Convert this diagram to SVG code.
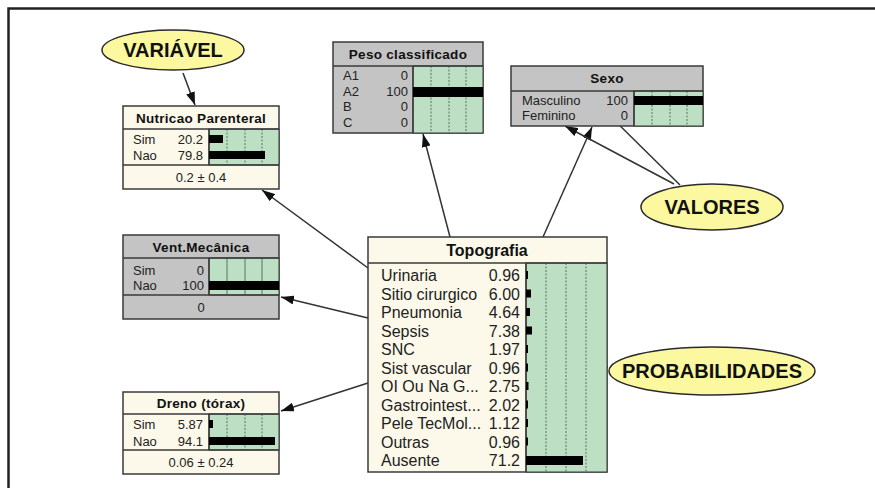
<svg xmlns="http://www.w3.org/2000/svg" width="875" height="488" viewBox="0 0 875 488">
<style>
  .box{stroke:#3a3a3a;stroke-width:1.5}
  .cream{fill:#fcf9ea}
  .gray{fill:#c4c4c4}
  .green{fill:#bde0c5;stroke:#3a3a3a;stroke-width:1}
  .sep{stroke:#3a3a3a;stroke-width:1.5;fill:none}
  .grid{stroke:#3a5a3a;stroke-width:0.8;stroke-dasharray:2,1.5}
  .gridS{stroke:#3a5a3a;stroke-width:0.8}
  .bar{fill:#000}
  .t{font-family:"Liberation Sans",Arial,sans-serif;font-weight:bold;font-size:13.5px;letter-spacing:0.3px;fill:#111;text-anchor:middle}
  .tb{font-family:"Liberation Sans",Arial,sans-serif;font-weight:bold;font-size:16px;fill:#111;text-anchor:middle}
  .s{font-family:"Liberation Sans",Arial,sans-serif;font-size:13px;fill:#222}
  .sv{font-family:"Liberation Sans",Arial,sans-serif;font-size:13px;fill:#222;text-anchor:end}
  .sc{font-family:"Liberation Sans",Arial,sans-serif;font-size:13px;fill:#222;text-anchor:middle}
  .L{font-family:"Liberation Sans",Arial,sans-serif;font-size:16px;fill:#222}
  .Lv{font-family:"Liberation Sans",Arial,sans-serif;font-size:16px;fill:#222;text-anchor:end}
  .ell{fill:#fbf8a0;stroke:#2a2a2a;stroke-width:1.5}
  .et{font-family:"Liberation Sans",Arial,sans-serif;font-weight:bold;font-size:20px;fill:#111;text-anchor:middle}
  .con{stroke:#333;stroke-width:1.5;fill:none;marker-end:url(#arr)}
</style>
<defs>
  <marker id="arr" markerUnits="userSpaceOnUse" markerWidth="13" markerHeight="9" refX="13" refY="4.5" orient="auto">
    <path d="M0,0 L13,4.5 L0,9 z" fill="#111"/>
  </marker>
</defs>
<rect width="875" height="488" fill="#fff"/>
<path d="M8.5,488 V8.5 H875" fill="none" stroke="#222" stroke-width="2.5"/>

<g id="connectors">
  <line class="con" x1="183" y1="73" x2="195" y2="105"/>
  <line class="con" x1="368" y1="268" x2="262" y2="190"/>
  <line class="con" x1="368" y1="318" x2="281" y2="297"/>
  <line class="con" x1="368" y1="383" x2="281" y2="411"/>
  <line class="con" x1="450" y1="237" x2="423" y2="134"/>
  <line class="con" x1="543" y1="237" x2="592" y2="127"/>
  <line class="con" x1="680" y1="185" x2="602" y2="108"/>
  <line class="con" x1="674" y1="184" x2="565" y2="126"/>
  <line class="con" x1="608" y1="367" x2="538" y2="367"/>
</g>

<g id="variavel">
  <ellipse class="ell" cx="173" cy="50" rx="71" ry="20"/>
  <text class="et" x="173" y="57">VARIÁVEL</text>
</g>

<g id="valores">
  <ellipse class="ell" cx="712" cy="207" rx="71" ry="23"/>
  <text class="et" x="712" y="214">VALORES</text>
</g>

<g id="probabilidades">
  <ellipse class="ell" cx="712" cy="371" rx="103" ry="24"/>
  <text class="et" x="712" y="378">PROBABILIDADES</text>
</g>

<g id="nutricao">
  <rect class="box cream" x="123" y="106" width="156" height="83"/>
  <rect class="green" x="209" y="129" width="70" height="36"/>
  <line class="grid" x1="227" y1="129" x2="227" y2="165"/>
  <line class="grid" x1="245" y1="129" x2="245" y2="165"/>
  <line class="grid" x1="262" y1="129" x2="262" y2="165"/>
  <path class="sep" d="M123,129 H279 M123,165 H279 M209,129 V165"/>
  <rect class="bar" x="209" y="135" width="14" height="8"/>
  <rect class="bar" x="209" y="151" width="56" height="8"/>
  <text class="t" x="201" y="122.5">Nutricao Parenteral</text>
  <text class="s" x="133" y="143.5">Sim</text><text class="sv" x="203" y="143.5">20.2</text>
  <text class="s" x="133" y="160">Nao</text><text class="sv" x="203" y="160">79.8</text>
  <text class="sc" x="201" y="182">0.2 ± 0.4</text>
</g>

<g id="vent">
  <rect class="box gray" x="123" y="235" width="156" height="84"/>
  <rect class="green" x="209" y="258" width="70" height="37"/>
  <line class="gridS" x1="227" y1="258" x2="227" y2="295"/>
  <line class="gridS" x1="245" y1="258" x2="245" y2="295"/>
  <line class="gridS" x1="262" y1="258" x2="262" y2="295"/>
  <path class="sep" d="M123,258 H279 M123,295 H279 M209,258 V295"/>
  <rect class="bar" x="209" y="281" width="70" height="9"/>
  <text class="t" x="201" y="251.5">Vent.Mecânica</text>
  <text class="s" x="133" y="274.5">Sim</text><text class="sv" x="204" y="274.5">0</text>
  <text class="s" x="133" y="290">Nao</text><text class="sv" x="204" y="290">100</text>
  <text class="sc" x="201" y="312">0</text>
</g>

<g id="dreno">
  <rect class="box cream" x="123" y="392" width="156" height="82"/>
  <rect class="green" x="209" y="414" width="70" height="36"/>
  <line class="grid" x1="227" y1="414" x2="227" y2="450"/>
  <line class="grid" x1="245" y1="414" x2="245" y2="450"/>
  <line class="grid" x1="262" y1="414" x2="262" y2="450"/>
  <path class="sep" d="M123,414 H279 M123,450 H279 M209,414 V450"/>
  <rect class="bar" x="209" y="420" width="4" height="8"/>
  <rect class="bar" x="209" y="437" width="66" height="8"/>
  <text class="t" x="201" y="408">Dreno (tórax)</text>
  <text class="s" x="133" y="429">Sim</text><text class="sv" x="203" y="429">5.87</text>
  <text class="s" x="133" y="446">Nao</text><text class="sv" x="203" y="446">94.1</text>
  <text class="sc" x="201" y="467">0.06 ± 0.24</text>
</g>

<g id="peso">
  <rect class="box gray" x="333" y="42" width="150" height="91"/>
  <rect class="green" x="413" y="66" width="70" height="67"/>
  <line class="grid" x1="431" y1="66" x2="431" y2="133"/>
  <line class="grid" x1="449" y1="66" x2="449" y2="133"/>
  <line class="grid" x1="466" y1="66" x2="466" y2="133"/>
  <path class="sep" d="M333,66 H483 M413,66 V133"/>
  <rect class="bar" x="413" y="87" width="70" height="10"/>
  <text class="t" x="408" y="59">Peso classificado</text>
  <text class="s" x="343" y="80">A1</text><text class="sv" x="408" y="80">0</text>
  <text class="s" x="343" y="96">A2</text><text class="sv" x="408" y="96">100</text>
  <text class="s" x="343" y="111">B</text><text class="sv" x="408" y="111">0</text>
  <text class="s" x="343" y="127">C</text><text class="sv" x="408" y="127">0</text>
</g>

<g id="sexo">
  <rect class="box gray" x="511" y="66" width="192" height="60"/>
  <rect class="green" x="634" y="91" width="69" height="35"/>
  <line class="grid" x1="652" y1="91" x2="652" y2="126"/>
  <line class="grid" x1="670" y1="91" x2="670" y2="126"/>
  <line class="grid" x1="687" y1="91" x2="687" y2="126"/>
  <path class="sep" d="M511,91 H703 M634,91 V126"/>
  <rect class="bar" x="634" y="96" width="69" height="9"/>
  <text class="t" x="607" y="83">Sexo</text>
  <text class="s" x="522" y="105">Masculino</text><text class="sv" x="628" y="105">100</text>
  <text class="s" x="522" y="120">Feminino</text><text class="sv" x="628" y="120">0</text>
</g>

<g id="topografia">
  <rect class="box cream" x="368" y="237" width="239" height="235"/>
  <rect class="green" x="526" y="263" width="81" height="209"/>
  <line class="grid" x1="546" y1="263" x2="546" y2="472"/>
  <line class="grid" x1="566" y1="263" x2="566" y2="472"/>
  <line class="grid" x1="586" y1="263" x2="586" y2="472"/>
  <path class="sep" d="M368,263 H607 M526,263 V472"/>
  <text class="tb" x="487" y="256">Topografia</text>
  <g class="rows">
    <text class="L" x="381" y="281">Urinaria</text><text class="Lv" x="520" y="281">0.96</text><rect class="bar" x="526" y="271" width="2" height="8"/>
    <text class="L" x="381" y="299.5">Sitio cirurgico</text><text class="Lv" x="520" y="299.5">6.00</text><rect class="bar" x="526" y="289.5" width="5" height="8"/>
    <text class="L" x="381" y="318">Pneumonia</text><text class="Lv" x="520" y="318">4.64</text><rect class="bar" x="526" y="308" width="4" height="8"/>
    <text class="L" x="381" y="336.5">Sepsis</text><text class="Lv" x="520" y="336.5">7.38</text><rect class="bar" x="526" y="326.5" width="6" height="8"/>
    <text class="L" x="381" y="355">SNC</text><text class="Lv" x="520" y="355">1.97</text><rect class="bar" x="526" y="345" width="2" height="8"/>
    <text class="L" x="381" y="373.5">Sist vascular</text><text class="Lv" x="520" y="373.5">0.96</text><rect class="bar" x="526" y="363.5" width="2" height="8"/>
    <text class="L" x="381" y="392">OI Ou Na G...</text><text class="Lv" x="520" y="392">2.75</text><rect class="bar" x="526" y="382" width="2.5" height="8"/>
    <text class="L" x="381" y="410.5">Gastrointest...</text><text class="Lv" x="520" y="410.5">2.02</text><rect class="bar" x="526" y="400.5" width="2" height="8"/>
    <text class="L" x="381" y="429">Pele TecMol...</text><text class="Lv" x="520" y="429">1.12</text><rect class="bar" x="526" y="419" width="2" height="8"/>
    <text class="L" x="381" y="447.5">Outras</text><text class="Lv" x="520" y="447.5">0.96</text><rect class="bar" x="526" y="437.5" width="2" height="8"/>
    <text class="L" x="381" y="466">Ausente</text><text class="Lv" x="520" y="466">71.2</text><rect class="bar" x="526" y="456" width="57" height="9"/>
  </g>
</g>
</svg>
